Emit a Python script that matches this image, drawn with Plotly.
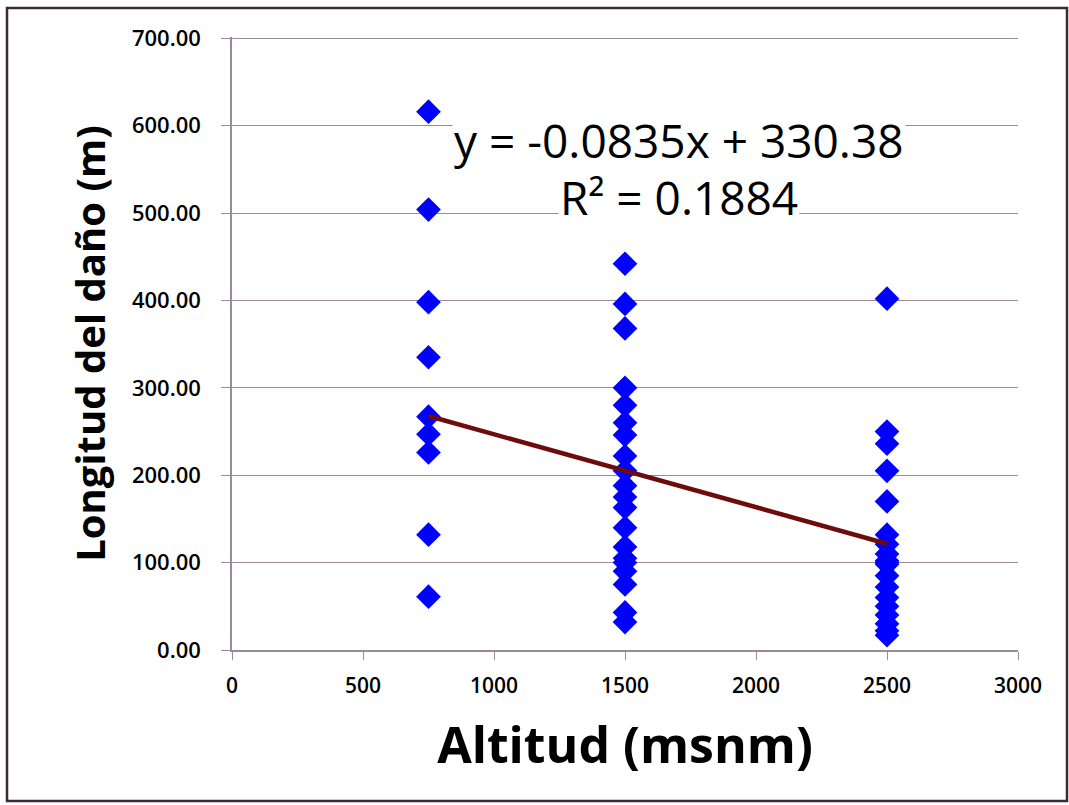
import plotly.graph_objects as go

# Data
alt_750 = [616, 504, 398, 335, 267, 247, 226, 132, 61]
alt_1500 = [442, 396, 368, 300, 280, 260, 246, 222, 205, 188, 175, 163, 140, 118, 105, 100, 90, 75, 43, 32]
alt_2500 = [402, 250, 236, 205, 170, 132, 121, 110, 102, 100, 98, 85, 72, 60, 50, 40, 30, 22, 17]
altitudes = [750, 1500, 2500]
y_ticks = [0, 100, 200, 300, 400, 500, 600, 700]
x_ticks = [0, 500, 1000, 1500, 2000, 2500, 3000]

slope = -0.0835
intercept = 330.38
r2 = 0.1884

x_vals = [750] * len(alt_750) + [1500] * len(alt_1500) + [2500] * len(alt_2500)
y_vals = alt_750 + alt_1500 + alt_2500

trend_x = [min(altitudes), max(altitudes)]
trend_y = [slope * v + intercept for v in trend_x]

grid_col = "#9c8a9c"
font_fam = "Open Sans, Liberation Sans, sans-serif"

fig = go.Figure()
fig.add_trace(go.Scatter(
    x=x_vals, y=y_vals, mode="markers",
    marker=dict(symbol="diamond", size=19, color="#0000FF", line=dict(width=0)),
    showlegend=False,
))
fig.add_trace(go.Scatter(
    x=trend_x, y=trend_y, mode="lines",
    line=dict(color="#6e0c0c", width=4.5),
    showlegend=False,
))

fig.update_layout(
    width=1069, height=805,
    margin=dict(l=232, r=51, t=37, b=155),
    paper_bgcolor="white", plot_bgcolor="white",
    font=dict(family=font_fam, color="black"),
    xaxis=dict(
        range=[0, 3000], tickvals=x_ticks,
        showgrid=False, zeroline=False,
        showline=True, linecolor=grid_col, linewidth=1.5,
        ticks="outside", ticklen=8, tickcolor=grid_col,
        ticklabelstandoff=8,
        tickfont=dict(size=21, family=font_fam, weight=600),
        title=dict(text="Altitud (msnm)", font=dict(size=50, family=font_fam, weight="bold"), standoff=30),
    ),
    yaxis=dict(
        range=[0, 701.5], tickvals=y_ticks,
        tickformat=".2f",
        showgrid=True, gridcolor=grid_col, gridwidth=1.2,
        zeroline=False,
        showline=True, linecolor=grid_col, linewidth=1.5,
        ticks="outside", ticklen=9, tickcolor=grid_col,
        ticklabelstandoff=16,
        tickfont=dict(size=22, family=font_fam, weight=600),
        title=dict(text="Longitud del daño (m)", font=dict(size=40, family=font_fam, weight="bold"), standoff=14),
    ),
)

fig.add_annotation(
    x=1705, y=584, xref="x", yref="y",
    text=f"y = {slope}x + {intercept}",
    showarrow=False, bgcolor="white",
    font=dict(size=46, family=font_fam, color="black"),
)
fig.add_annotation(
    x=1705, y=518, xref="x", yref="y",
    text=f"R² = {r2}",
    showarrow=False, bgcolor="white",
    font=dict(size=46, family=font_fam, color="black"),
)

# Outer chart border
fig.add_shape(type="rect", xref="paper", yref="paper",
              x0=-225/786, x1=1 + (51-2)/786, y0=-(155-4)/613, y1=1 + (37-8)/613,
              line=dict(color="#3a2a3a", width=2.5), fillcolor="rgba(0,0,0,0)", layer="below")

fig.write_html("out.html")
